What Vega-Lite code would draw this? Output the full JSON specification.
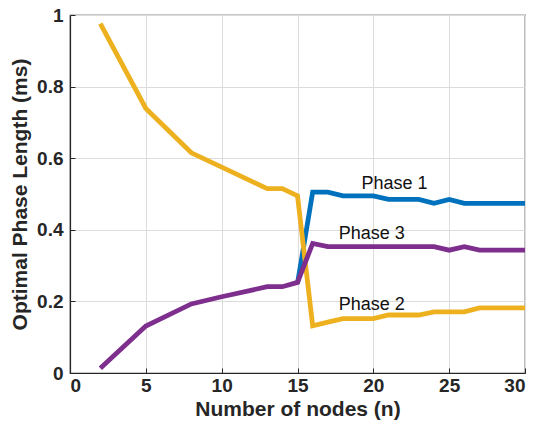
{
  "$schema": "https://vega.github.io/schema/vega-lite/v6.json",
  "width": 455,
  "height": 358,
  "autosize": {"type": "none"},
  "padding": {"left": 70, "top": 15, "right": 12, "bottom": 53},
  "background": "white",
  "config": {
    "font": "Liberation Sans",
    "view": {"stroke": "#262626", "strokeWidth": 1.2},
    "axis": {
      "domainColor": "#262626",
      "domainWidth": 1.2,
      "gridColor": "#dcdcdc",
      "gridWidth": 1,
      "tickColor": "#262626",
      "tickSize": -5,
      "labelFont": "Liberation Sans",
      "labelFontWeight": "bold",
      "labelFontSize": 19,
      "labelColor": "#262626",
      "titleFont": "Liberation Sans",
      "titleFontWeight": "bold",
      "titleFontSize": 21,
      "titleColor": "#262626"
    }
  },
  "datasets": {
    "series": [
      {"n": 15, "value": 0.25, "phase": "Phase 1"},
      {"n": 16, "value": 0.505, "phase": "Phase 1"},
      {"n": 17, "value": 0.505, "phase": "Phase 1"},
      {"n": 18, "value": 0.495, "phase": "Phase 1"},
      {"n": 19, "value": 0.495, "phase": "Phase 1"},
      {"n": 20, "value": 0.495, "phase": "Phase 1"},
      {"n": 21, "value": 0.485, "phase": "Phase 1"},
      {"n": 22, "value": 0.485, "phase": "Phase 1"},
      {"n": 23, "value": 0.485, "phase": "Phase 1"},
      {"n": 24, "value": 0.474, "phase": "Phase 1"},
      {"n": 25, "value": 0.485, "phase": "Phase 1"},
      {"n": 26, "value": 0.474, "phase": "Phase 1"},
      {"n": 27, "value": 0.474, "phase": "Phase 1"},
      {"n": 28, "value": 0.474, "phase": "Phase 1"},
      {"n": 29, "value": 0.474, "phase": "Phase 1"},
      {"n": 30, "value": 0.474, "phase": "Phase 1"},
      {"n": 2, "value": 0.976, "phase": "Phase 2"},
      {"n": 5, "value": 0.739, "phase": "Phase 2"},
      {"n": 8, "value": 0.615, "phase": "Phase 2"},
      {"n": 10, "value": 0.575, "phase": "Phase 2"},
      {"n": 13, "value": 0.515, "phase": "Phase 2"},
      {"n": 14, "value": 0.515, "phase": "Phase 2"},
      {"n": 15, "value": 0.495, "phase": "Phase 2"},
      {"n": 16, "value": 0.132, "phase": "Phase 2"},
      {"n": 17, "value": 0.142, "phase": "Phase 2"},
      {"n": 18, "value": 0.152, "phase": "Phase 2"},
      {"n": 19, "value": 0.152, "phase": "Phase 2"},
      {"n": 20, "value": 0.152, "phase": "Phase 2"},
      {"n": 21, "value": 0.162, "phase": "Phase 2"},
      {"n": 22, "value": 0.162, "phase": "Phase 2"},
      {"n": 23, "value": 0.162, "phase": "Phase 2"},
      {"n": 24, "value": 0.171, "phase": "Phase 2"},
      {"n": 25, "value": 0.171, "phase": "Phase 2"},
      {"n": 26, "value": 0.171, "phase": "Phase 2"},
      {"n": 27, "value": 0.182, "phase": "Phase 2"},
      {"n": 28, "value": 0.182, "phase": "Phase 2"},
      {"n": 29, "value": 0.182, "phase": "Phase 2"},
      {"n": 30, "value": 0.182, "phase": "Phase 2"},
      {"n": 2, "value": 0.013, "phase": "Phase 3"},
      {"n": 5, "value": 0.131, "phase": "Phase 3"},
      {"n": 8, "value": 0.193, "phase": "Phase 3"},
      {"n": 10, "value": 0.213, "phase": "Phase 3"},
      {"n": 13, "value": 0.241, "phase": "Phase 3"},
      {"n": 14, "value": 0.241, "phase": "Phase 3"},
      {"n": 15, "value": 0.253, "phase": "Phase 3"},
      {"n": 16, "value": 0.362, "phase": "Phase 3"},
      {"n": 17, "value": 0.353, "phase": "Phase 3"},
      {"n": 18, "value": 0.353, "phase": "Phase 3"},
      {"n": 19, "value": 0.353, "phase": "Phase 3"},
      {"n": 20, "value": 0.353, "phase": "Phase 3"},
      {"n": 21, "value": 0.353, "phase": "Phase 3"},
      {"n": 22, "value": 0.353, "phase": "Phase 3"},
      {"n": 23, "value": 0.353, "phase": "Phase 3"},
      {"n": 24, "value": 0.353, "phase": "Phase 3"},
      {"n": 25, "value": 0.343, "phase": "Phase 3"},
      {"n": 26, "value": 0.353, "phase": "Phase 3"},
      {"n": 27, "value": 0.343, "phase": "Phase 3"},
      {"n": 28, "value": 0.343, "phase": "Phase 3"},
      {"n": 29, "value": 0.343, "phase": "Phase 3"},
      {"n": 30, "value": 0.343, "phase": "Phase 3"}
    ],
    "labels": [
      {"n": 21.4, "value": 0.527, "label": "Phase 1"},
      {"n": 19.9, "value": 0.388, "label": "Phase 3"},
      {"n": 19.9, "value": 0.189, "label": "Phase 2"}
    ]
  },
  "layer": [
    {
      "data": {"name": "series"},
      "mark": {"type": "line", "strokeWidth": 4.8, "strokeJoin": "miter", "clip": true},
      "encoding": {
        "x": {
          "field": "n", "type": "quantitative",
          "scale": {"domain": [0, 30], "nice": false},
          "axis": {"values": [0, 5, 10, 15, 20, 25, 30], "title": "Number of nodes (n)", "labelPadding": 8, "titlePadding": 3}
        },
        "y": {
          "field": "value", "type": "quantitative",
          "scale": {"domain": [0, 1], "nice": false},
          "axis": {"values": [0, 0.2, 0.4, 0.6, 0.8, 1], "format": "~g", "title": "Optimal Phase Length (ms)", "labelPadding": 12, "titlePadding": 6}
        },
        "color": {
          "field": "phase", "type": "nominal",
          "scale": {"domain": ["Phase 1", "Phase 2", "Phase 3"], "range": ["#0072BD", "#EDB120", "#7E2F8E"]},
          "legend": null
        }
      }
    },
    {
      "data": {"name": "labels"},
      "mark": {"type": "text", "fontSize": 18, "font": "Liberation Sans", "color": "#111111", "align": "center", "baseline": "middle"},
      "encoding": {
        "x": {"field": "n", "type": "quantitative"},
        "y": {"field": "value", "type": "quantitative"},
        "text": {"field": "label"}
      }
    }
  ]
}
